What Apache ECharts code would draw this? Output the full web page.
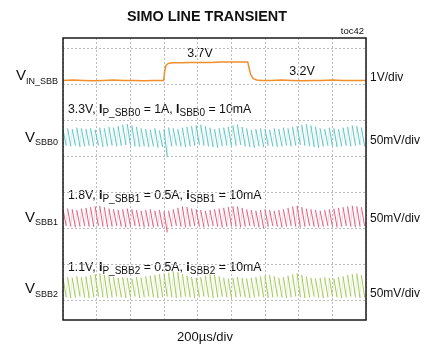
<!DOCTYPE html>
<html><head><meta charset="utf-8">
<script src="https://cdn.jsdelivr.net/npm/echarts@6.0.0/dist/echarts.min.js"></script>
<style>html,body{margin:0;padding:0;background:#fff}#c{width:431px;height:346px}</style>
</head><body><div id="c"></div>
<script>
// ---- data ----
const titleText = 'SIMO LINE TRANSIENT';
const tocText = 'toc42';
const timeDivLabel = '200µs/div';
const timeSpanUs = 1800; // 9 divisions x 200us

// V_IN_SBB line step (volts)
const vinTime = [0, 60, 120, 180, 240, 300, 360, 420, 480, 540, 598, 604, 612, 625, 650, 700, 760, 820, 880, 940, 1000, 1060, 1098, 1105, 1115, 1130, 1150, 1180, 1240, 1300, 1360, 1420, 1480, 1540, 1600, 1660, 1720, 1800];
const vinVolt = [3.20, 3.21, 3.20, 3.19, 3.20, 3.21, 3.20, 3.20, 3.19, 3.20, 3.20, 3.45, 3.62, 3.67, 3.69, 3.69, 3.70, 3.70, 3.70, 3.71, 3.71, 3.71, 3.71, 3.55, 3.36, 3.25, 3.21, 3.20, 3.20, 3.21, 3.20, 3.19, 3.20, 3.20, 3.21, 3.20, 3.20, 3.20];

// Output ripple (mV, AC coupled) - one peak and one trough per switching tooth
const sbb0Peak = [10,12,11,13,12,11, 12,10,13,12,14,13, 15,17,18,16,14,12, 11,10,12,9,11,13, 12,11,13,14,15,16, 17,15,13,11,12,13, 14,16,17,14,12,10, 11,12,11,10,12,11, 13,12,14,15,17,18, 16,14,12,11,13,12, 11,13,14,16,15,13];
const sbb0Trough = [-12,-13,-12,-14,-13,-12, -13,-12,-14,-13,-12,-13, -12,-11,-12,-13,-14,-13, -14,-13,-15,-14,-28,-13, -12,-13,-14,-13,-12,-11, -12,-13,-14,-15,-13,-12, -13,-12,-11,-13,-14,-15, -13,-14,-12,-13,-14,-13, -12,-13,-12,-11,-12,-13, -14,-15,-13,-12,-13,-14, -13,-12,-13,-12,-11,-13];
const sbb1Peak = [12,13,12,11,13,14, 15,16,17,15,13,12, 11,12,13,12,11,10, 11,12,10,11,9,10, 12,14,16,15,13,12, 11,10,11,12,13,14, 15,16,16,14,12,11, 10,11,12,11,10,11, 12,14,16,17,15,13, 12,11,10,11,12,13, 14,15,16,17,16,15];
const sbb1Trough = [-11,-12,-13,-12,-11,-12, -12,-11,-12,-13,-12,-11, -12,-13,-12,-11,-12,-13, -12,-13,-12,-13,-20,-12, -11,-12,-13,-12,-11,-12, -13,-12,-11,-12,-13,-12, -11,-12,-13,-12,-11,-12, -13,-14,-12,-11,-12,-13, -12,-11,-12,-13,-12,-11, -12,-13,-12,-11,-12,-13, -12,-11,-12,-13,-12,-11];
const sbb2Peak = [12,13,12,14,13,14, 16,17,18,16,14,13, 12,13,12,11,13,12, 14,15,16,17,18,19, 21,20,17,15,13,12, 13,15,17,16,14,12, 11,12,13,12,11,12, 13,14,15,16,14,12, 13,15,17,18,16,14, 12,11,12,13,12,11, 13,14,16,17,18,16];
const sbb2Trough = [-15,-16,-15,-14,-15,-16, -15,-14,-15,-16,-15,-14, -15,-16,-15,-14,-16,-15, -14,-15,-16,-15,-14,-15, -16,-15,-14,-15,-16,-15, -14,-15,-16,-15,-14,-15, -16,-15,-14,-15,-16,-15, -14,-15,-16,-15,-14,-15, -16,-15,-14,-15,-16,-15, -14,-15,-16,-15,-14,-15, -16,-15,-14,-15,-16,-15];

const traceNames = ['V_IN_SBB', 'V_SBB0', 'V_SBB1', 'V_SBB2'];
const traceSubs = ['IN_SBB', 'SBB0', 'SBB1', 'SBB2'];
const scaleLabels = ['1V/div', '50mV/div', '50mV/div', '50mV/div'];
const levelLabels = ['3.7V', '3.2V'];
const condVolt = ['3.3V', '1.8V', '1.1V'];
const condIp = ['1A', '0.5A', '0.5A'];
const condLoad = ['10mA', '10mA', '10mA'];
const colors = ['#EF8F2A', '#5EC6C4', '#E2607F', '#A3CA58'];

// ---- build ----
const FALL = 0.7; // fraction of each switching period spent on the slow (falling) edge
function fallData(peaks, troughs) {
  const P = timeSpanUs / peaks.length;
  const d = [];
  peaks.forEach((p, i) => { d.push([i * P, p]); d.push([i * P + FALL * P, troughs[i]]); d.push(null); });
  return d;
}
function riseData(peaks, troughs) {
  const P = timeSpanUs / peaks.length;
  const d = [];
  peaks.forEach((p, i) => {
    if (i + 1 < peaks.length) { d.push([i * P + FALL * P, troughs[i]]); d.push([(i + 1) * P, peaks[i + 1]]); d.push(null); }
  });
  return d;
}
const vinData = vinTime.map((t, i) => [t, vinVolt[i]]);

const FFname = 'Liberation Sans';
const FF = '"Liberation Sans", Arial, sans-serif';
const gridLine = { dash: [2, 2], color: '#bdbdbd' };
const mctx = document.createElement('canvas').getContext('2d');
function measure(text, size, bold) {
  mctx.font = (bold ? 'bold ' : '') + size + 'px "' + FFname + '"';
  return mctx.measureText(text).width;
}
function hiddenY(min, max) {
  return { type: 'value', gridIndex: 1, min, max, show: false };
}
function txt(x, y, text, size, align, bold) {
  return {
    type: 'text', x, y, silent: true,
    style: { text, fontSize: size, fontWeight: bold ? 'bold' : 'normal', fontFamily: FF, fill: '#111',
      align, verticalAlign: 'middle', textAlign: align, textVerticalAlign: 'middle' }
  };
}
function runs(x, yc, parts, mainSize, subSize, subDy, alignRight) {
  let total = 0;
  parts.forEach(p => { total += measure(p.t, p.s ? subSize : mainSize, p.b); });
  let cx = alignRight ? x - total : x;
  const out = [];
  parts.forEach(p => {
    const size = p.s ? subSize : mainSize;
    out.push(txt(cx, yc + (p.s ? subDy : 0), p.t, size, 'left', p.b));
    cx += measure(p.t, size, p.b);
  });
  return out;
}

const chart = echarts.init(document.getElementById('c'), null, { renderer: 'canvas' });

const vLabelY = [76, 137.5, 217.5, 289];
const scaleY = [78, 141, 219, 294];
const condY = [110, 195.5, 267.5];

let graphics = [
  Object.assign(txt(207, 17, titleText, 15.5, 'center', true), { scaleX: 0.93 }),
  txt(364, 31, tocText, 9.5, 'right'),
  txt(200, 53.5, levelLabels[0], 12.5, 'center'),
  txt(302, 71.5, levelLabels[1], 12.5, 'center'),
  txt(205, 337, timeDivLabel, 13, 'center')
];
scaleLabels.forEach((s, i) => graphics.push(txt(370, scaleY[i], s, 12, 'left')));
traceSubs.forEach((s, i) => { graphics = graphics.concat(runs(58, vLabelY[i], [{t: 'V'}, {t: s, s: 1}], 15, 9, 5.5, true)); });
condVolt.forEach((v, i) => {
  graphics = graphics.concat(runs(68, condY[i], [
    {t: v + ', '}, {t: 'I', b: 1}, {t: 'P_' + traceSubs[i + 1], s: 1}, {t: ' = ' + condIp[i] + ', '},
    {t: 'I', b: 1}, {t: traceSubs[i + 1], s: 1}, {t: ' = ' + condLoad[i]}
  ], 12.3, 10, 3.5, false));
});

const ripples = [[sbb0Peak, sbb0Trough], [sbb1Peak, sbb1Trough], [sbb2Peak, sbb2Trough]];
const series = [
  { name: traceNames[0], type: 'line', xAxisIndex: 1, yAxisIndex: 2, data: vinData, symbol: 'none', lineStyle: { color: colors[0], width: 1.5 } }
];
ripples.forEach((r, i) => {
  series.push({ name: traceNames[i + 1], type: 'line', xAxisIndex: 1, yAxisIndex: 3 + i, data: fallData(r[0], r[1]), symbol: 'none', connectNulls: false, lineStyle: { color: colors[i + 1], width: 1 } });
  series.push({ name: traceNames[i + 1] + ' edge', type: 'line', xAxisIndex: 1, yAxisIndex: 3 + i, data: riseData(r[0], r[1]), symbol: 'none', connectNulls: false, lineStyle: { color: colors[i + 1], width: 0.8, opacity: 0.35 } });
});

const option = {
  animation: false,
  backgroundColor: '#fff',
  grid: [
    { left: 63, right: 65, top: 38, bottom: 26, show: true, borderColor: '#1a1a1a', borderWidth: 1.5, backgroundColor: 'transparent', z: 5 },
    { left: 63, right: 65, top: 48, bottom: 46 }
  ],
  xAxis: [
    { type: 'value', gridIndex: 0, min: 0, max: timeSpanUs, interval: 200,
      axisLine: { show: false }, axisTick: { show: false }, axisLabel: { show: false },
      splitLine: { show: true, lineStyle: { type: gridLine.dash, color: gridLine.color, width: 1 } } },
    { type: 'value', gridIndex: 1, min: 0, max: timeSpanUs, show: false }
  ],
  yAxis: [
    { type: 'value', gridIndex: 0, min: 0, max: 1, show: false },
    { type: 'value', gridIndex: 1, min: 0, max: 7, interval: 1,
      axisLine: { show: false }, axisTick: { show: false }, axisLabel: { show: false },
      splitLine: { show: true, lineStyle: { type: gridLine.dash, color: gridLine.color, width: 1 } } },
    hiddenY(-2.9, 4.1),
    hiddenY(-226.4, 123.6),
    hiddenY(-113.9, 236.1),
    hiddenY(-18.75, 331.25)
  ],
  series,
  graphic: graphics
};
chart.setOption(option);
</script>
</body></html>
